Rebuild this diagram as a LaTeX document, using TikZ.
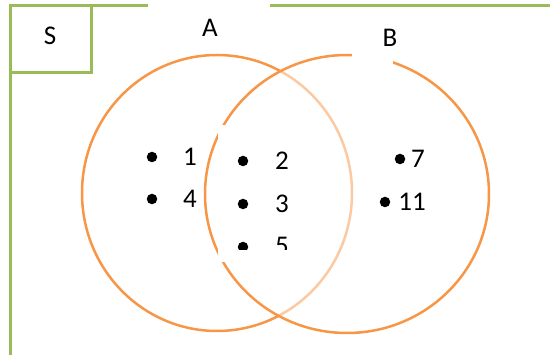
\documentclass[tikz,border=0pt]{standalone}
\usepackage{fontspec}
\setmainfont{Carlito}
\usepackage{xcolor}
\usepackage{tikz}

\definecolor{frameGreen}{HTML}{9BBB59}
\definecolor{setOrange}{HTML}{F79646}

\begin{document}
\begin{tikzpicture}[x=1pt,y=-1pt,
    framing/.style={frameGreen,line width=3pt},
    ring/.style={setOrange,line width=2.5pt},
    settext/.style={font=\fontsize{27}{31}\selectfont,inner sep=0pt},
    bullet/.style={circle,fill=black,inner sep=0pt,minimum size=10.5pt}]
    \useasboundingbox (0,0) rectangle (550,355);

    % universe frame
    \draw[framing] (10.5,6) rectangle (91,73);
    \draw[framing] (148,6) -- (10.5,6) -- (10.5,355);
    \draw[framing] (270,6) -- (550,6);

    % the two sets
    \draw[ring] (217,193) ellipse [x radius=135, y radius=138];
    \fill[white,opacity=0.5] (347,194) ellipse [x radius=142, y radius=139];
    \draw[ring] (347,194) ellipse [x radius=142, y radius=139];
    \fill[white] (218,125) rectangle (320,262);
    \fill[white] (352,12) rectangle (393,66);

    \node[settext] (S) at (50,36) {S};
    \node[settext] (A) at (210,28) {A};
    \node[settext] (B) at (390,37.5) {B};

    \foreach \id/\bx/\nx/\y in {1/152/190/157,4/152/190/199,2/243/282/161,
                                3/243/282/204,7/400/418/159,11/385/412/202} {
      \node[bullet] (dot\id) at (\bx,\y) {};
      \node[settext] (num\id) at (\nx,\y) {\id};
    }

    \begin{scope}
      \clip (225,230) rectangle (300,250);
      \node[bullet] (dot5) at (243,247) {};
      \node[settext] (num5) at (282,246) {5};
    \end{scope}
  \end{tikzpicture}
\end{document}
